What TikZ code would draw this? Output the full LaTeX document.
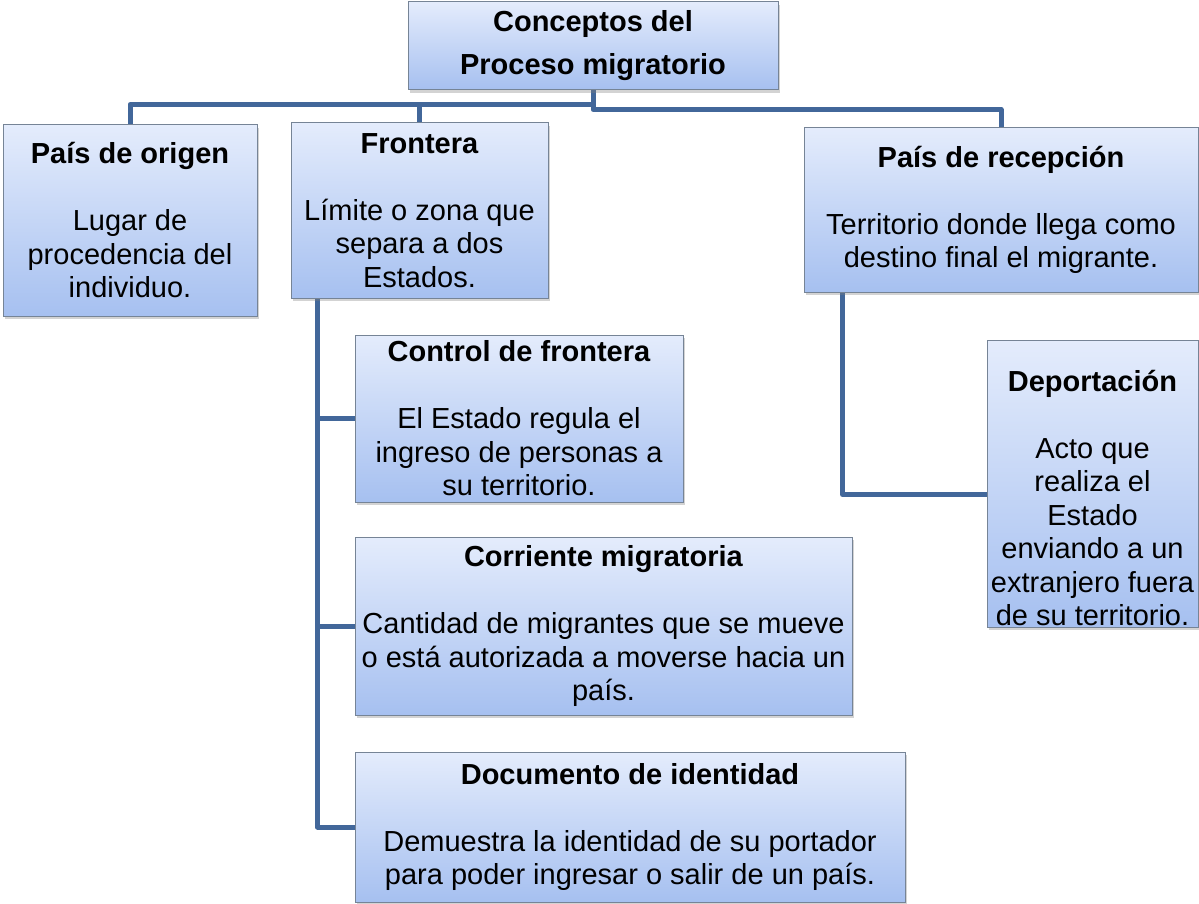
\documentclass[tikz,border=0pt]{standalone}
\usepackage{fontspec}
\setmainfont{Liberation Sans}
\usetikzlibrary{calc,shadows,backgrounds}
\definecolor{boxtop}{RGB}{228,236,252}
\definecolor{boxbottom}{RGB}{166,192,240}
\definecolor{boxline}{RGB}{118,132,150}
\definecolor{linkblue}{RGB}{66,103,154}
\begin{document}
\begin{tikzpicture}[x=1pt, y=-1pt, node distance=160pt]
  \tikzstyle{concept} = [rectangle, align=center, inner sep=0pt, draw=boxline, line width=1pt, top color=boxtop, bottom color=boxbottom, drop shadow={shadow xshift=2pt, shadow yshift=-3pt, opacity=0.35}, font=\fontsize{29}{33.5}\selectfont]
  \tikzstyle{root} = [concept, font=\bfseries\fontsize{29}{43}\selectfont]
  \tikzstyle{link} = [line width=5pt, draw=linkblue, line join=round]

  \useasboundingbox (0,0) rectangle (1199,904);
  \node (title) [root, minimum width=370pt, minimum height=88pt] at (593,46) {Conceptos del\\Proceso migratorio};
  \node (origen) [concept, below of=title, xshift=-463pt, yshift=-14.5pt, minimum width=254pt, minimum height=191pt] {\textbf{País de origen}\\[33.5pt]Lugar de\\procedencia del\\individuo.};
  \node (frontera) [concept, below of=title, xshift=-173.5pt, yshift=-4.5pt, minimum width=257pt, minimum height=175pt] {\textbf{Frontera}\\[33.5pt]Límite o zona que\\separa a dos\\Estados.};
  \node (recepcion) [concept, below of=title, xshift=408pt, yshift=-4pt, minimum width=394pt, minimum height=164pt] {\textbf{País de recepción}\\[33.5pt]Territorio donde llega como\\destino final el migrante.};
  \node (control) [concept, below of=frontera, xshift=99.5pt, yshift=-48pt, minimum width=328pt, minimum height=167pt] {\textbf{Control de frontera}\\[33.5pt]El Estado regula el\\ingreso de personas a\\su territorio.};
  \node (corriente) [concept, below of=control, xshift=84.5pt, yshift=-47.5pt, minimum width=497pt, minimum height=178pt] {\textbf{Corriente migratoria}\\[33.5pt]Cantidad de migrantes que se mueve\\o está autorizada a moverse hacia un\\país.};
  \node (documento) [concept, below of=corriente, xshift=26.5pt, yshift=-41pt, minimum width=550pt, minimum height=150pt] {\textbf{Documento de identidad}\\[33.5pt]Demuestra la identidad de su portador\\para poder ingresar o salir de un país.};
  \node (deportacion) [concept, below of=recepcion, xshift=91.5pt, yshift=-113.5pt, minimum width=211pt, minimum height=287pt] {\rule{0pt}{50pt}\textbf{Deportación}\\[33.5pt]Acto que\\realiza el\\Estado\\enviando a un\\extranjero fuera\\de su territorio.};

  \begin{scope}[on background layer]
    \coordinate (busL) at ($(title.south)+(0,14)$);
    \coordinate (busR) at ($(title.south)+(0,19)$);
    \coordinate (ftrunk) at ($(frontera.south west)+(27,0)$);
    \coordinate (rtrunk) at ($(recepcion.south west)+(39,0)$);
    \draw [link] (title.south) -- (busL) -| (origen.north);
    \draw [link] (busL) -| (frontera.north);
    \draw [link] (title.south) -- (busR) -| (recepcion.north);
    \draw [link] (ftrunk) |- (control.west);
    \draw [link] (ftrunk) |- (corriente.west);
    \draw [link] (ftrunk) |- (documento.west);
    \draw [link] (rtrunk) |- ([yshift=-11pt]deportacion.west);
  \end{scope}
\end{tikzpicture}
\end{document}
